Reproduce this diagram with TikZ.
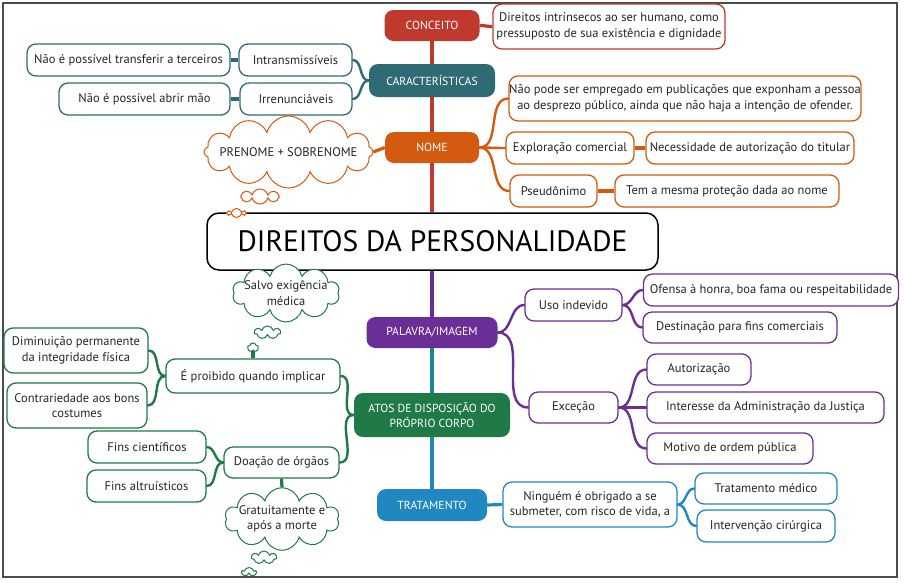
\documentclass[tikz,border=0pt]{standalone}
\usepackage{fontspec}
\setmainfont{PT Sans}
\usetikzlibrary{shapes.symbols}
\pgfdeclarelayer{bg}
\pgfsetlayers{bg,main}
\definecolor{cred}{HTML}{C0392F}
\definecolor{cteal}{HTML}{2E6B75}
\definecolor{corange}{HTML}{D35A0E}
\definecolor{cpurple}{HTML}{6B2E96}
\definecolor{cgreen}{HTML}{1F7A45}
\definecolor{cblue}{HTML}{2187C0}
\definecolor{cmix}{HTML}{1F8494}
\definecolor{ctext}{HTML}{262626}
\newcommand\leaffont{\fontsize{12.5}{15.5}\selectfont}
\newcommand\topicfont{\fontsize{11.7}{14.5}\selectfont}
\newcommand\rootfont{\fontsize{29.5}{32}\selectfont}
\tikzset{
  leaf/.style={draw=#1, fill=white, rounded corners=9pt, line width=1.3pt, inner sep=0pt, align=center, font=\leaffont, text=ctext},
  topic/.style={fill=#1, rounded corners=9pt, inner sep=0pt, align=center, font=\topicfont, text=white},
  thought/.style={cloud, cloud puffs=#1, cloud ignores aspect, fill=white, line width=1pt, inner sep=0pt, align=center, font=\leaffont, text=ctext},
  link/.style={draw=#1, line width=2.4pt, line cap=round},
  stub/.style={draw=#1, line width=3.2pt},
  trunk/.style={draw=#1, line width=3.6pt},
  sz/.style 2 args={minimum width=#1pt, minimum height=#2pt},
}
\begin{document}
\begin{tikzpicture}[x=1pt,y=-1pt]
\useasboundingbox (0,0) rectangle (904,582);
% root
\node[draw=black, fill=white, line width=1.5pt, rounded corners=12pt, sz={451}{57}, inner sep=0pt, font=\rootfont, text=black] (root) at (432.5,241.5) {DIREITOS DA PERSONALIDADE};
% conceito
\node[topic=cred, sz={95}{31}] (conceito) at (432,25.5) {CONCEITO};
\node[leaf=cred, sz={232}{45}] (concdef) at (609,26.5) {Direitos intrínsecos ao ser humano, como\\pressuposto de sua existência e dignidade};
% caracteristicas
\node[topic=cteal, sz={126}{33}] (caract) at (432,80.5) {CARACTERÍSTICAS};
\node[leaf=cteal, sz={113}{32}] (intrans) at (295.5,60) {Intransmissíveis};
\node[leaf=cteal, sz={203}{32}] (transf) at (128.5,60) {Não é possível transferir a terceiros};
\node[leaf=cteal, sz={112}{32}] (irren) at (296,99) {Irrenunciáveis};
\node[leaf=cteal, sz={171}{32}] (abrir) at (144.5,99) {Não é possível abrir mão};
% nome
\node[topic=corange, sz={94}{31}] (nome) at (432,147.5) {NOME};
\node[leaf=corange, sz={352}{45}] (naopode) at (685,98.5) {Não pode ser empregado em publicações que exponham a pessoa\\ao desprezo público, ainda que não haja a intenção de ofender.};
\node[leaf=corange, sz={128}{32}] (explor) at (570,148) {Exploração comercial};
\node[leaf=corange, sz={208}{32}] (necess) at (750,148) {Necessidade de autorização do titular};
\node[leaf=corange, sz={87}{32}] (pseud) at (553.5,191) {Pseudônimo};
\node[leaf=corange, sz={224}{32}] (tem) at (727,191) {Tem a mesma proteção dada ao nome};
\node[thought=12, draw=corange, sz={100}{72}, inner xsep=-8pt] (prenome) at (288.5,152) {PRENOME + SOBRENOME};
\node[thought=8, draw=corange, sz={39}{15}] (pb1) at (260,196.5) {};
\node[thought=6, draw=corange, sz={18}{9}] (pb2) at (236.5,213) {};
% palavra/imagem
\node[topic=cpurple, sz={131}{31}] (palavra) at (432,332.5) {PALAVRA/IMAGEM};
\node[leaf=cpurple, sz={97}{32}] (uso) at (573.5,305) {Uso indevido};
\node[leaf=cpurple, sz={255}{32}] (ofensa) at (771,290) {Ofensa à honra, boa fama ou respeitabilidade};
\node[leaf=cpurple, sz={194}{31}] (destin) at (740,327.5) {Destinação para fins comerciais};
\node[leaf=cpurple, sz={89}{31}] (excecao) at (573.5,407.5) {Exceção};
\node[leaf=cpurple, sz={104}{31}] (autor) at (699,369.5) {Autorização};
\node[leaf=cpurple, sz={237}{31}] (interesse) at (765.5,407.5) {Interesse da Administração da Justiça};
\node[leaf=cpurple, sz={166}{31}] (motivo) at (730,448.5) {Motivo de ordem pública};
% atos
\node[topic=cgreen, sz={156}{44}] (atos) at (432,415) {ATOS DE DISPOSIÇÃO DO\\PRÓPRIO CORPO};
\node[leaf=cgreen, sz={174}{34}] (proib) at (253,376) {É proibido quando implicar};
\node[leaf=cgreen, sz={144}{45}] (dimin) at (76,350.5) {Diminuição permanente\\da integridade física};
\node[leaf=cgreen, sz={140}{45}] (contra) at (77,405.5) {Contrariedade aos bons\\costumes};
\node[leaf=cgreen, sz={115}{31}] (doacao) at (281.5,462.5) {Doação de órgãos};
\node[leaf=cgreen, sz={118}{32}] (cient) at (147,447) {Fins científicos};
\node[leaf=cgreen, sz={119}{32}] (altru) at (146.5,486) {Fins altruísticos};
\node[thought=10, draw=cgreen, sz={80}{51}, inner xsep=-5pt] (salvo) at (286,293) {Salvo exigência\\médica};
\node[thought=7, draw=cgreen, sz={26}{13}] (sb1) at (267.5,332.5) {};
\node[thought=5, draw=cgreen, sz={11}{9}] (sb2) at (253,347.5) {};
\node[thought=10, draw=cgreen, sz={80}{52}, inner xsep=-4pt] (gratuit) at (282,519) {Gratuitamente e\\após a morte};
\node[thought=7, draw=cgreen, sz={25}{13}] (gb1) at (264,557.5) {};
\node[thought=5, draw=cgreen, sz={14}{9}] (gb2) at (249,572) {};
% tratamento
\node[topic=cblue, sz={110}{32}] (trat) at (432,505) {TRATAMENTO};
\node[leaf=cblue, sz={174}{45}] (ninguem) at (590,504.5) {Ninguém é obrigado a se\\submeter, com risco de vida, a};
\node[leaf=cblue, sz={142}{31}] (tratmed) at (766,488.5) {Tratamento médico};
\node[leaf=cblue, sz={138}{32}] (interv) at (766,526) {Intervenção cirúrgica};

\begin{pgfonlayer}{bg}
\draw[line width=1.6pt, black!70] (3,3) rectangle (897,577);
% trunk
\draw[trunk=cred] (root.north -| conceito.south) -- (conceito.south);
\draw[trunk=cpurple] (root.south -| palavra.north) -- (palavra.north);
\draw[trunk=cmix] (palavra.south) -- (atos.north);
\draw[trunk=cblue] (atos.south) -- (trat.north);
% red
\draw[stub=cred] (conceito.east) to[out=0,in=180] (concdef.west);
% teal
\draw[link=cteal] (caract.west) to[out=180,in=0] (intrans.east);
\draw[link=cteal] (caract.west) to[out=180,in=0] (irren.east);
\draw[stub=cteal] (intrans.west) -- (transf.east);
\draw[stub=cteal] (irren.west) -- (abrir.east);
% orange
\draw[link=corange] (nome.east) to[out=0,in=180] (naopode.west);
\draw[link=corange] (nome.east) to[out=0,in=180] (explor.west);
\draw[link=corange] (nome.east) to[out=0,in=180] (pseud.west);
\draw[stub=corange] (explor.east) -- (necess.west);
\draw[stub=corange] (pseud.east) -- (tem.west);
\draw[stub=corange] (prenome.east) -- (nome.west);
% purple
\draw[link=cpurple] (palavra.east) to[out=0,in=180] (uso.west);
\draw[link=cpurple] (palavra.east) to[out=0,in=180] (excecao.west);
\draw[link=cpurple] (uso.east) to[out=0,in=180] (ofensa.west);
\draw[link=cpurple] (uso.east) to[out=0,in=180] (destin.west);
\draw[link=cpurple] (excecao.east) to[out=0,in=180] (autor.west);
\draw[link=cpurple] (excecao.east) to[out=0,in=180] (interesse.west);
\draw[link=cpurple] (excecao.east) to[out=0,in=180] (motivo.west);
% green
\draw[link=cgreen] (atos.west) to[out=180,in=0] (proib.east);
\draw[link=cgreen] (atos.west) to[out=180,in=0] (doacao.east);
\draw[link=cgreen] (proib.west) to[out=180,in=0] (dimin.east);
\draw[link=cgreen] (proib.west) to[out=180,in=0] (contra.east);
\draw[link=cgreen] (doacao.west) to[out=180,in=0] (cient.east);
\draw[link=cgreen] (doacao.west) to[out=180,in=0] (altru.east);
\draw[stub=cgreen] (doacao.south) -- (gratuit.north);
\draw[stub=cgreen] (sb2.south) -- (proib.north);
% blue
\draw[stub=cblue] (trat.east) -- (ninguem.west);
\draw[link=cblue] (ninguem.east) to[out=0,in=180] (tratmed.west);
\draw[link=cblue] (ninguem.east) to[out=0,in=180] (interv.west);
\end{pgfonlayer}
\end{tikzpicture}
\end{document}
